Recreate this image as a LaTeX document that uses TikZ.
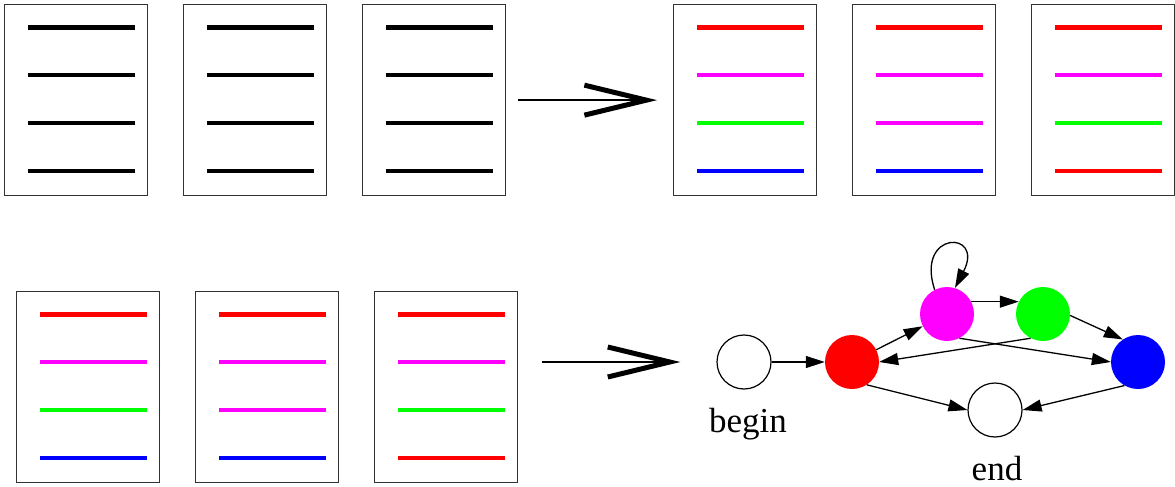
\documentclass[tikz,border=0pt]{standalone}
\usepackage{fontspec}
\setmainfont{Liberation Serif}
\usetikzlibrary{arrows.meta,calc}
\definecolor{vgreen}{RGB}{0,255,0}
\definecolor{vmag}{RGB}{255,0,255}
\definecolor{vred}{RGB}{255,0,0}
\definecolor{vblue}{RGB}{0,0,255}
\tikzset{
  x=1pt,y=-1pt,
  page/.style={draw=black!80,line width=1.3pt,minimum width=143pt,minimum height=191pt,inner sep=0pt,anchor=north west},
  bar/.style={line width=4.5pt},
  bigarrow/.style={line width=2pt,-{Straight Barb[length=62pt,width=30pt,line width=5pt]}},
  state/.style={circle,minimum size=54pt,inner sep=0pt},
  openstate/.style={state,draw=black,line width=1.2pt,fill=white},
  edge/.style={line width=1.3pt,-{Triangle[length=19pt,width=12pt]}},
  lab/.style={font=\fontsize{35}{40}\selectfont,anchor=base}
}
\begin{document}
\begin{tikzpicture}
\useasboundingbox (0,0) rectangle (1175,487);
% top row
\node[page] (b1) at (4,4) {};
\node[page] (b2) at (183,4) {};
\node[page] (b3) at (362,4) {};
\node[page] (b4) at (673,4) {};
\node[page] (b5) at (852,4) {};
\node[page] (b6) at (1031,4) {};
% bottom row
\node[page] (b7) at (16,291) {};
\node[page] (b8) at (195,291) {};
\node[page] (b9) at (374,291) {};
% bars
\foreach \b/\ca/\cb/\cc/\cd in {b1/black/black/black/black,b2/black/black/black/black,b3/black/black/black/black,
  b4/vred/vmag/vgreen/vblue,b5/vred/vmag/vmag/vblue,b6/vred/vmag/vgreen/vred,
  b7/vred/vmag/vgreen/vblue,b8/vred/vmag/vmag/vblue,b9/vred/vmag/vgreen/vred}{
  \draw[bar,\ca] ($(\b.north west)+(24,23.5)$) -- ++(107,0);
  \draw[bar,\cb] ($(\b.north west)+(24,71)$) -- ++(107,0);
  \draw[bar,\cc] ($(\b.north west)+(24,119)$) -- ++(107,0);
  \draw[bar,\cd] ($(\b.north west)+(24,167)$) -- ++(107,0);
}
% graph
\node[openstate] (begin) at (744,362) {};
\node[state,fill=vred] (red) at (852,362) {};
\node[state,fill=vmag] (mag) at (947,314) {};
\node[state,fill=vgreen] (grn) at (1043,314) {};
\node[state,fill=vblue] (blu) at (1138,362) {};
\node[openstate] (end) at (995,410) {};
\node[lab] (lbegin) at (748,432) {begin};
\node[lab] (lend) at (997,480) {end};
% big arrows
\draw[bigarrow] ([xshift=12pt]b3.east) -- ([xshift=-16pt]b4.west);
\draw[bigarrow] ([xshift=24pt]b9.east |- begin.west) -- ([xshift=-36pt]begin.west);
% edges
\draw[edge] (begin) -- (red);
\draw[edge] (red) -- (mag);
\draw[edge] (mag.27) -- (grn.153);
\draw[edge] (grn.-3) -- (blu.124);
\draw[edge] (mag.-63) -- (blu.west);
\draw[edge] (grn.-117) -- (red.east);
\draw[edge] (red.-57) -- (end.west);
\draw[edge] (blu.-120) -- (end.east);
\draw[edge] (mag.117) .. controls (915,230) and (985,230) .. (mag.73);
\end{tikzpicture}
\end{document}
